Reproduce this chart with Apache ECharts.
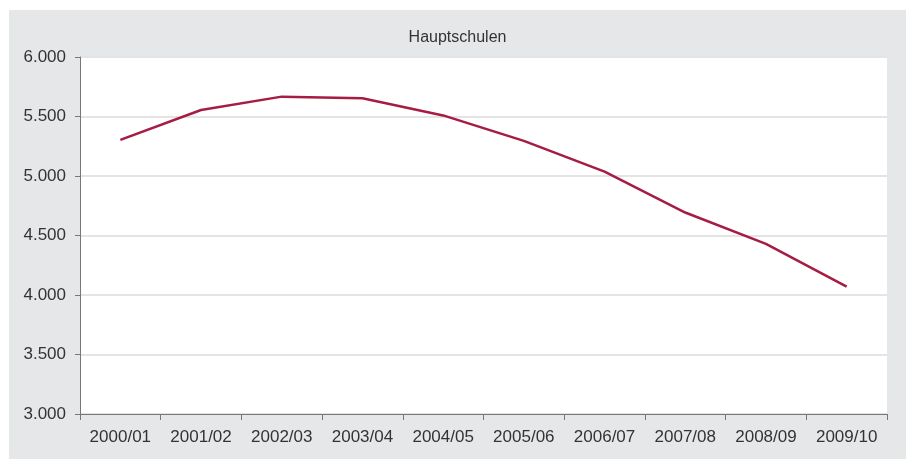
<!DOCTYPE html>
<html>
<head>
<meta charset="utf-8">
<script src="https://cdn.jsdelivr.net/npm/echarts@6/dist/echarts.min.js"></script>
<style>
  html, body { margin: 0; padding: 0; background: #fff; }
  #chart { position: absolute; left: 9px; top: 10px; width: 897px; height: 449px; }
</style>
</head>
<body>
<div id="chart"></div>
<script>
// Schuljahre und Werte (Hauptschulen)
const years = ['2000/01', '2001/02', '2002/03', '2003/04', '2004/05',
               '2005/06', '2006/07', '2007/08', '2008/09', '2009/10'];
const hauptschulen = [5303, 5555, 5667, 5653, 5509, 5295, 5037, 4693, 4430, 4071];
const yMin = 3000, yMax = 6000, yStep = 500;

const font = '"Liberation Sans", Arial, sans-serif';
const fmt = v => String(v).replace(/\B(?=(\d{3})+(?!\d))/g, '.');

const chart = echarts.init(document.getElementById('chart'));
chart.setOption({
    backgroundColor: '#e6e7e8',
    animation: false,
    title: {
        text: 'Hauptschulen',
        left: 'center',
        top: 15,
        textStyle: {fontFamily: font, fontSize: 16, fontWeight: 'normal', color: '#333'}
    },
    grid: {
        left: 71, top: 47, right: 19, bottom: 45,
        show: true, backgroundColor: '#fff', borderWidth: 0
    },
    xAxis: {
        type: 'category',
        data: years,
        boundaryGap: true,
        axisLine: {lineStyle: {color: '#777', width: 1}},
        axisTick: {show: true, interval: 0, length: 6, lineStyle: {color: '#777'}},
        axisLabel: {interval: 0, margin: 15, fontFamily: font, fontSize: 17, color: '#333'}
    },
    yAxis: {
        type: 'value',
        min: yMin, max: yMax, interval: yStep,
        axisLine: {show: true, lineStyle: {color: '#777', width: 1}},
        axisTick: {show: true, length: 5, lineStyle: {color: '#777'}},
        axisLabel: {margin: 14, fontFamily: font, fontSize: 17, color: '#333', formatter: fmt},
        splitLine: {lineStyle: {color: '#e4e4e4', width: 2}}
    },
    series: [{
        type: 'line',
        data: hauptschulen,
        symbol: 'none',
        lineStyle: {color: '#a51c44', width: 2.5}
    }]
});
</script>
</body>
</html>
